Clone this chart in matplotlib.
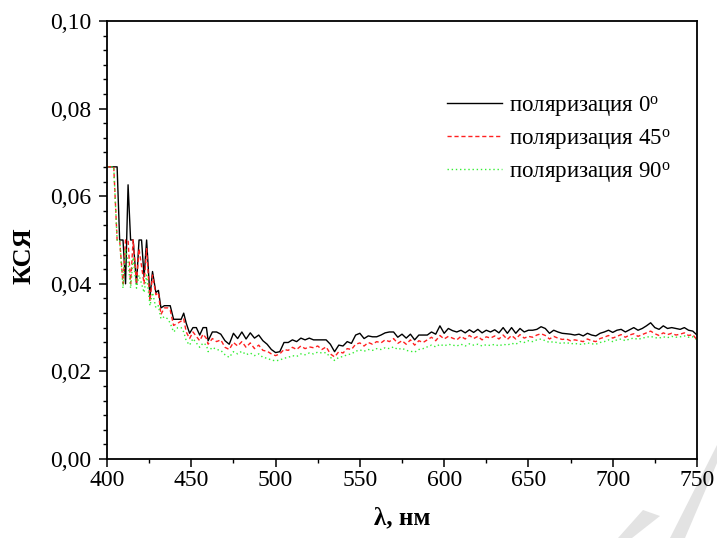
import matplotlib
matplotlib.use("Agg")
import matplotlib.pyplot as plt
from matplotlib.ticker import MultipleLocator, FuncFormatter, FixedLocator
from matplotlib.patches import Polygon

plt.rcParams['font.family'] = ['Liberation Serif', 'DejaVu Serif']
plt.rcParams['mathtext.fontset'] = 'custom'
plt.rcParams['mathtext.rm'] = 'Liberation Serif'
plt.rcParams['mathtext.it'] = 'Liberation Serif:italic'

# wavelength grid (nm)
wavelength = [400, 404, 406, 407.5, 409.5, 411, 412.5, 414, 415.5, 417.5,
              419, 420.5, 422, 423.5, 425.5, 427, 429, 430.5, 432, 434,
              436, 437.5, 439.5, 442, 444, 445.5, 447, 449, 451, 453,
              455, 457, 459,
              460, 462.5, 465, 467.5, 470, 472.5, 475, 477.5, 480, 482.5,
              485, 487.5, 490, 492.5, 495, 497.5, 500, 502.5, 505, 507.5,
              510, 512.5, 515, 517.5, 520, 522.5, 525, 527.5, 530, 532.5,
              535, 537.5, 540, 542.5, 545, 547.5, 550, 552.5, 555, 557.5,
              560, 562.5, 565, 567.5, 570, 572.5, 575, 577.5, 580, 582.5,
              585, 587.5, 590, 592.5, 595, 597.5, 600, 602.5, 605, 607.5,
              610, 612.5, 615, 617.5, 620, 622.5, 625, 627.5, 630, 632.5,
              635, 637.5, 640, 642.5, 645, 647.5, 650, 652.5, 655, 657.5,
              660, 662.5, 665, 667.5, 670, 672.5, 675, 677.5, 680, 682.5,
              685, 687.5, 690, 692.5, 695, 697.5, 700, 702.5, 705, 707.5,
              710, 712.5, 715, 717.5, 720, 722.5, 725, 727.5, 730, 732.5,
              735, 737.5, 740, 742.5, 745, 747.5, 750]

pol_0 = [.0667, .0667, .0667, .0500, .0500, .0400, .0626, .0500, .0500, .0400,
         .0500, .0500, .0416, .0500, .0370, .0428, .0380, .0385, .0345, .0350,
         .0350, .0350, .0319, .0319, .0319, .0333, .0310, .0287, .0300, .0300,
         .0283, .0300, .0300,
         .0270, .0290, .0290, .0285, .0270, .0262, .0287, .0275, .0290, .0274,
         .0288, .0276, .0283, .0270, .0262, .0250, .0243, .0245, .0266, .0266,
         .0272, .0268, .0276, .0272, .0276, .0272, .0272, .0272, .0272, .0262,
         .0245, .0260, .0258, .0268, .0264, .0283, .0287, .0275, .0281, .0279,
         .0279, .0283, .0288, .0290, .0290, .0278, .0285, .0276, .0285, .0272,
         .0283, .0283, .0283, .0290, .0285, .0304, .0287, .0298, .0293, .0290,
         .0294, .0288, .0295, .0289, .0296, .0288, .0294, .0290, .0295, .0288,
         .0300, .0287, .0300, .0287, .0298, .0290, .0294, .0294, .0296, .0302,
         .0298, .0287, .0294, .0290, .0287, .0286, .0285, .0283, .0285, .0281,
         .0287, .0283, .0281, .0287, .0290, .0294, .0289, .0294, .0296, .0290,
         .0295, .0300, .0294, .0298, .0304, .0311, .0300, .0296, .0304, .0298,
         .0300, .0298, .0296, .0300, .0294, .0292, .0283]

pol_45 = [.0667, .0667, .0500, .0500, .0400, .0500, .0500, .0400, .0500, .0400,
          .0480, .0440, .0400, .0480, .0360, .0420, .0375, .0380, .0330, .0345,
          .0345, .0340, .0305, .0310, .0315, .0320, .0290, .0275, .0290, .0280,
          .0270, .0285, .0275,
          .0262, .0275, .0268, .0272, .0255, .0250, .0266, .0258, .0268, .0255,
          .0265, .0252, .0260, .0248, .0246, .0240, .0236, .0240, .0250, .0248,
          .0255, .0250, .0258, .0252, .0256, .0254, .0258, .0250, .0256, .0240,
          .0233, .0245, .0242, .0252, .0250, .0262, .0265, .0258, .0266, .0262,
          .0268, .0265, .0272, .0268, .0275, .0264, .0270, .0262, .0272, .0260,
          .0270, .0266, .0272, .0278, .0270, .0282, .0274, .0280, .0276, .0272,
          .0280, .0274, .0282, .0275, .0280, .0272, .0279, .0276, .0281, .0274,
          .0283, .0273, .0282, .0274, .0284, .0276, .0280, .0278, .0283, .0286,
          .0282, .0274, .0280, .0276, .0273, .0274, .0270, .0272, .0270, .0268,
          .0274, .0270, .0268, .0275, .0278, .0282, .0276, .0280, .0284, .0278,
          .0283, .0286, .0280, .0284, .0288, .0292, .0286, .0282, .0288, .0284,
          .0287, .0283, .0285, .0288, .0282, .0284, .0272]

pol_90 = [.0667, .0667, .0500, .0500, .0390, .0480, .0450, .0390, .0460, .0390,
          .0420, .0400, .0380, .0420, .0350, .0380, .0345, .0350, .0320, .0325,
          .0320, .0310, .0290, .0300, .0300, .0290, .0270, .0260, .0275, .0265,
          .0255, .0265, .0260,
          .0245, .0255, .0250, .0248, .0238, .0232, .0245, .0240, .0246, .0238,
          .0242, .0236, .0240, .0232, .0230, .0226, .0224, .0226, .0230, .0232,
          .0236, .0234, .0240, .0238, .0242, .0240, .0244, .0242, .0243, .0232,
          .0225, .0232, .0234, .0238, .0240, .0246, .0249, .0246, .0250, .0248,
          .0252, .0250, .0254, .0252, .0256, .0250, .0253, .0248, .0246, .0244,
          .0250, .0252, .0256, .0260, .0256, .0262, .0258, .0262, .0260, .0258,
          .0262, .0258, .0263, .0260, .0262, .0258, .0261, .0259, .0262, .0258,
          .0262, .0260, .0264, .0262, .0268, .0266, .0270, .0268, .0272, .0274,
          .0270, .0266, .0268, .0265, .0264, .0266, .0263, .0264, .0262, .0262,
          .0265, .0263, .0262, .0266, .0268, .0272, .0268, .0272, .0274, .0270,
          .0274, .0276, .0273, .0276, .0278, .0280, .0277, .0276, .0279, .0277,
          .0280, .0278, .0279, .0281, .0278, .0279, .0272]

labels = ['поляризация 0$^{\\mathrm{o}}$', 'поляризация 45$^{\\mathrm{o}}$',
          'поляризация 90$^{\\mathrm{o}}$']
x_ticks = [400, 450, 500, 550, 600, 650, 700, 750]
y_ticks = [0.00, 0.02, 0.04, 0.06, 0.08, 0.10]

W, H = 717, 538
fig = plt.figure(figsize=(W / 100, H / 100), dpi=100)
ax = fig.add_axes([107 / W, 79 / H, 590 / W, 438 / H])

ax.plot(wavelength, pol_0, color='black', lw=1.0, ls='-', label=labels[0])
ax.plot(wavelength, pol_45, color='#ff2020', lw=1.0, ls=(0, (3, 2)), label=labels[1])
ax.plot(wavelength, pol_90, color='#33ee33', lw=1.0, ls=(0, (1, 2)), label=labels[2])

ax.set_xlim(400, 750)
ax.set_ylim(0, 0.10)
ax.xaxis.set_major_locator(FixedLocator(x_ticks))
ax.yaxis.set_major_locator(FixedLocator(y_ticks))
ax.xaxis.set_minor_locator(MultipleLocator(25))
ax.yaxis.set_minor_locator(MultipleLocator(0.02 / 6))
ax.yaxis.set_major_formatter(FuncFormatter(lambda v, p: f"{v:.2f}".replace('.', ',')))
ax.xaxis.set_major_formatter(FuncFormatter(lambda v, p: f"{v:.0f}"))

for s in ax.spines.values():
    s.set_linewidth(1.3)
ax.tick_params(which='major', direction='out', length=6, width=1.1,
               labelsize=17, top=False, right=False)
ax.tick_params(which='minor', direction='out', length=3, width=1.0,
               top=False, right=False)
ax.tick_params(axis='y', which='major', pad=5)
ax.tick_params(axis='x', which='major', pad=2)

# axis titles
fig.text(24 / W, 1 - 256 / H, 'КСЯ', fontsize=19, fontweight='bold',
         rotation=90, ha='center', va='center')
fig.text(402 / W, 1 - 518 / H, 'λ, нм', fontsize=18, fontweight='bold',
         ha='center', va='center')

ax.legend(loc='upper left', bbox_to_anchor=(0.5765, 0.834), frameon=False,
          fontsize=16.5, handlelength=2.4, handletextpad=0.3,
          labelspacing=0.35, borderpad=0, borderaxespad=0)

# faint grey watermark stripes at lower right (behind everything)
for pts in ([(717, 445), (717, 463), (685, 538), (670, 538)],
            [(643, 510), (660, 516), (632, 538), (618, 538)]):
    poly = Polygon([(x / W, 1 - y / H) for x, y in pts], closed=True,
                   transform=fig.transFigure, facecolor='#e3e3e3',
                   edgecolor='none', zorder=-5)
    fig.patches.append(poly)

fig.savefig('out.png', dpi=100)
